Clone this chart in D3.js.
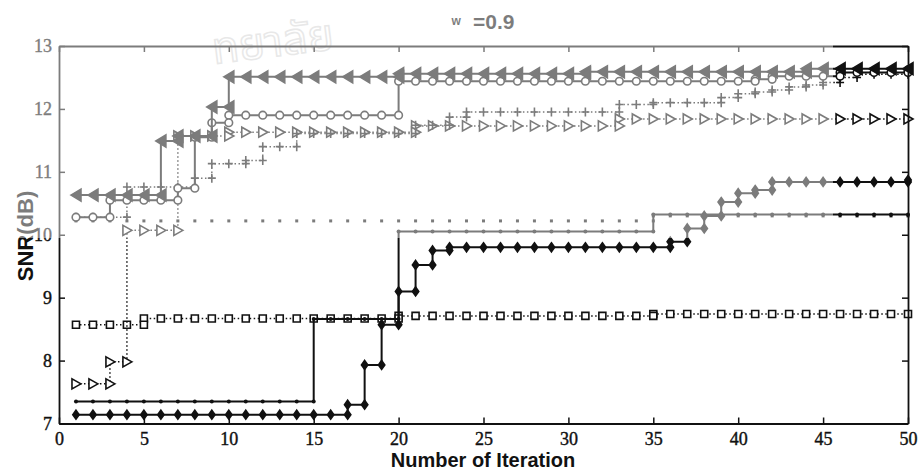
<!DOCTYPE html>
<html>
<head>
<meta charset="utf-8">
<script src="https://cdn.jsdelivr.net/npm/d3@7/dist/d3.min.js"></script>
<style>
  body { margin: 0; background: #fff; }
  svg { display: block; }
</style>
</head>
<body>
<svg id="chart" width="920" height="473"></svg>
<script>
// Iteration index (x) and tick labels
const iterations = d3.range(1, 51);
const xTickValues = [0, 5, 10, 15, 20, 25, 30, 35, 40, 45, 50];
const yTickValues = [7, 8, 9, 10, 11, 12, 13];
const titleText = "=0.9";
const xLabel = "Number of Iteration";
const yLabel = "SNR(dB)";
const sealText = "ทยาลัย";

// SNR (dB) per iteration, one array per curve
const snrLeftTri = [10.63, 10.63, 10.63, 10.63, 10.63, 11.49, 11.57, 11.57, 12.03, 12.51,
  12.51, 12.51, 12.51, 12.51, 12.51, 12.51, 12.51, 12.51, 12.51, 12.56,
  12.56, 12.56, 12.56, 12.56, 12.56, 12.56, 12.56, 12.56, 12.56, 12.56,
  12.59, 12.59, 12.59, 12.59, 12.59, 12.59, 12.59, 12.59, 12.59, 12.59,
  12.59, 12.59, 12.59, 12.64, 12.64, 12.64, 12.64, 12.64, 12.64, 12.64];
const snrCircle = [10.28, 10.28, 10.55, 10.55, 10.55, 10.55, 10.74, 11.55, 11.78, 11.90,
  11.90, 11.90, 11.90, 11.90, 11.90, 11.90, 11.90, 11.90, 11.90, 12.44,
  12.44, 12.44, 12.44, 12.44, 12.44, 12.44, 12.44, 12.44, 12.44, 12.44,
  12.44, 12.44, 12.44, 12.44, 12.44, 12.44, 12.44, 12.44, 12.44, 12.44,
  12.47, 12.52, 12.52, 12.52, 12.52, 12.58, 12.58, 12.58, 12.58, 12.62];
const snrRightTri = [7.63, 7.63, 7.98, 10.07, 10.07, 10.07, 11.57, 11.57, 11.57, 11.63,
  11.63, 11.63, 11.63, 11.63, 11.63, 11.63, 11.63, 11.63, 11.63, 11.63,
  11.73, 11.73, 11.73, 11.73, 11.73, 11.73, 11.73, 11.73, 11.73, 11.73,
  11.73, 11.73, 11.84, 11.84, 11.84, 11.84, 11.84, 11.84, 11.84, 11.84,
  11.84, 11.84, 11.84, 11.84, 11.84, 11.84, 11.84, 11.84, 11.84, 11.84];
const snrPlus = [10.28, 10.28, 10.28, 10.76, 10.76, 10.76, 10.76, 10.90, 11.13, 11.13,
  11.18, 11.40, 11.40, 11.61, 11.61, 11.61, 11.61, 11.61, 11.61, 11.61,
  11.74, 11.74, 11.87, 11.95, 11.95, 11.95, 11.95, 11.95, 11.95, 11.95,
  11.95, 11.95, 12.07, 12.07, 12.10, 12.10, 12.10, 12.10, 12.18, 12.24,
  12.27, 12.30, 12.35, 12.38, 12.42, 12.50, 12.55, 12.55, 12.55, 12.62];
const snrDotted = [10.22, 10.22, 10.22, 10.22, 10.22, 10.22, 10.22, 10.22, 10.22, 10.22,
  10.22, 10.22, 10.22, 10.22, 10.22, 10.22, 10.22, 10.22, 10.22, 10.22,
  10.22, 10.22, 10.22, 10.22, 10.22, 10.22, 10.22, 10.22, 10.22, 10.22,
  10.22, 10.22, 10.22, 10.22, 10.30, 10.30, 10.30, 10.30, 10.30, 10.30,
  10.30, 10.30, 10.30, 10.30, 10.30, 10.30, 10.30, 10.30, 10.30, 10.30];
const snrPoint = [7.35, 7.35, 7.35, 7.35, 7.35, 7.35, 7.35, 7.35, 7.35, 7.35,
  7.35, 7.35, 7.35, 7.35, 8.66, 8.66, 8.66, 8.66, 8.66, 10.05,
  10.05, 10.05, 10.05, 10.05, 10.05, 10.05, 10.05, 10.05, 10.05, 10.05,
  10.05, 10.05, 10.05, 10.05, 10.32, 10.32, 10.32, 10.32, 10.32, 10.32,
  10.32, 10.32, 10.32, 10.32, 10.32, 10.32, 10.32, 10.32, 10.32, 10.32];
const snrSquare = [8.57, 8.57, 8.57, 8.57, 8.67, 8.67, 8.67, 8.67, 8.67, 8.67,
  8.67, 8.67, 8.67, 8.67, 8.67, 8.67, 8.67, 8.67, 8.67, 8.71,
  8.71, 8.71, 8.71, 8.71, 8.71, 8.71, 8.71, 8.71, 8.71, 8.71,
  8.71, 8.71, 8.71, 8.71, 8.74, 8.74, 8.74, 8.74, 8.74, 8.74,
  8.74, 8.74, 8.74, 8.74, 8.74, 8.74, 8.74, 8.74, 8.74, 8.74];
const snrDiamond = [7.14, 7.14, 7.14, 7.14, 7.14, 7.14, 7.14, 7.14, 7.14, 7.14,
  7.14, 7.14, 7.14, 7.14, 7.14, 7.14, 7.30, 7.93, 8.57, 9.10,
  9.52, 9.75, 9.80, 9.80, 9.80, 9.80, 9.80, 9.80, 9.80, 9.80,
  9.80, 9.80, 9.80, 9.80, 9.80, 9.89, 10.10, 10.30, 10.52, 10.66,
  10.71, 10.84, 10.84, 10.84, 10.84, 10.84, 10.84, 10.84, 10.84, 10.87];

const svg = d3.select("#chart");
const ink = "#111";

const x = d3.scaleLinear().domain([0, 50]).range([59, 908]);
const y = d3.scaleLinear().domain([7, 13]).range([423.5, 46]);

// pale seal lettering behind the plot
svg.append("text")
  .attr("transform", "translate(214,64) rotate(-7)")
  .attr("fill", "none")
  .attr("stroke", "#d6d6d6")
  .attr("stroke-width", 1.6)
  .style("font-size", "44px")
  .style("font-family", "'Noto Sans Thai', 'Noto Sans', 'DejaVu Sans', sans-serif")
  .text(sealText);

// marker shapes centred on (0,0)
const shapes = {
  leftTri: "M-5,0L5,-6L5,6Z",
  rightTri: "M5,0L-4,-5L-4,5Z",
  plus: "M-4,0H4M0,-4.5V4.5",
  diamond: "M0,-4.5L3.2,0L0,4.5L-3.2,0Z",
  square: "M-3.5,-3.5H3.5V3.5H-3.5Z",
  dot: "M-2,0A2,2 0 1,0 2,0A2,2 0 1,0 -2,0Z",
  tiny: "M-1.5,-1.5H1.5V1.5H-1.5Z",
  circle: "M-3.8,0A3.8,3.8 0 1,0 3.8,0A3.8,3.8 0 1,0 -3.8,0Z"
};

const curves = [
  { values: snrDotted, shape: "tiny", line: false, fill: ink, stroke: "none" },
  { values: snrSquare, shape: "square", dash: "1.5,2.5", width: 1.5, fill: "#fff", stroke: ink },
  { values: snrPoint, shape: "dot", width: 2, fill: ink, stroke: "none" },
  { values: snrDiamond, shape: "diamond", width: 2, fill: ink, stroke: ink },
  { values: snrRightTri, shape: "rightTri", dash: "1.5,2.5", width: 1.5, fill: "#fff", stroke: ink },
  { values: snrPlus, shape: "plus", dash: "1.5,2.5", width: 1.5, fill: "none", stroke: ink },
  { values: snrCircle, shape: "circle", width: 2, fill: "#fff", stroke: ink },
  { values: snrLeftTri, shape: "leftTri", width: 2, fill: ink, stroke: ink }
];

const stair = d3.line()
  .x((d, i) => x(iterations[i]))
  .y(d => y(d))
  .curve(d3.curveStepAfter);

const plot = svg.append("g");

curves.forEach(c => {
  const g = plot.append("g");
  if (c.line !== false) {
    g.append("path")
      .attr("d", stair(c.values))
      .attr("fill", "none")
      .attr("stroke", ink)
      .attr("stroke-width", c.width)
      .attr("stroke-dasharray", c.dash || null);
  }
  // markers sit at both corners of every step
  const pts = [];
  c.values.forEach((v, i) => {
    pts.push([iterations[i], v]);
    if (i > 0 && c.values[i - 1] !== v) pts.push([iterations[i], c.values[i - 1]]);
  });
  g.selectAll("path.m").data(pts).join("path")
    .attr("class", "m")
    .attr("transform", d => `translate(${x(d[0])},${y(d[1])})`)
    .attr("d", shapes[c.shape])
    .attr("fill", c.fill)
    .attr("stroke", c.stroke)
    .attr("stroke-width", 1.6);
});

// axes: box with inward ticks on every side
const tickFont = "'Liberation Serif', 'DejaVu Serif', serif";
const axisBottomG = svg.append("g").attr("transform", `translate(0,${y(7)})`)
  .call(d3.axisBottom(x).tickValues(xTickValues).tickSize(-6).tickSizeOuter(0).tickPadding(9).tickFormat(d3.format("d")));
const axisLeftG = svg.append("g").attr("transform", `translate(${x(0)},0)`)
  .call(d3.axisLeft(y).tickValues(yTickValues).tickSize(-6).tickSizeOuter(0).tickPadding(7).tickFormat(d3.format("d")));
const axisTopG = svg.append("g").attr("transform", `translate(0,${y(13)})`)
  .call(d3.axisTop(x).tickValues(xTickValues).tickSize(-6).tickSizeOuter(0).tickFormat(""));
const axisRightG = svg.append("g").attr("transform", `translate(${x(50)},0)`)
  .call(d3.axisRight(y).tickValues(yTickValues).tickSize(-6).tickSizeOuter(0).tickFormat(""));

[axisBottomG, axisLeftG, axisTopG, axisRightG].forEach(a => {
  a.selectAll("path.domain").attr("stroke", ink).attr("stroke-width", 1.8);
  a.selectAll(".tick line").attr("stroke", ink).attr("stroke-width", 1.5);
  a.selectAll(".tick text").attr("fill", ink)
    .attr("stroke", ink).attr("stroke-width", 0.4)
    .style("font-family", tickFont).style("font-size", "18px");
});

// title
const title = svg.append("text")
  .attr("x", 483).attr("y", 29)
  .attr("text-anchor", "middle")
  .attr("fill", ink)
  .style("font-family", "'Liberation Sans', Arial, sans-serif")
  .style("font-weight", "bold");
title.append("tspan").style("font-size", "12px").attr("dy", -4).text("w");
title.append("tspan").style("font-size", "21px").attr("dx", 12).attr("dy", 4).text(titleText);

// axis titles
svg.append("text")
  .attr("x", 483).attr("y", 467)
  .attr("text-anchor", "middle")
  .attr("fill", ink)
  .style("font-family", "'Liberation Sans', Arial, sans-serif")
  .style("font-weight", "bold").style("font-size", "20px")
  .text(xLabel);

svg.append("text")
  .attr("transform", "translate(33,236) rotate(-90)")
  .attr("text-anchor", "middle")
  .attr("fill", ink)
  .style("font-family", "'Liberation Sans', Arial, sans-serif")
  .style("font-weight", "bold").style("font-size", "22px")
  .text(yLabel);

// faded upper-left panel of the printed page
svg.append("rect")
  .attr("x", 0).attr("y", 0).attr("width", 833).attr("height", 238)
  .attr("fill", "#fff").attr("fill-opacity", 0.45);
</script>
</body>
</html>
